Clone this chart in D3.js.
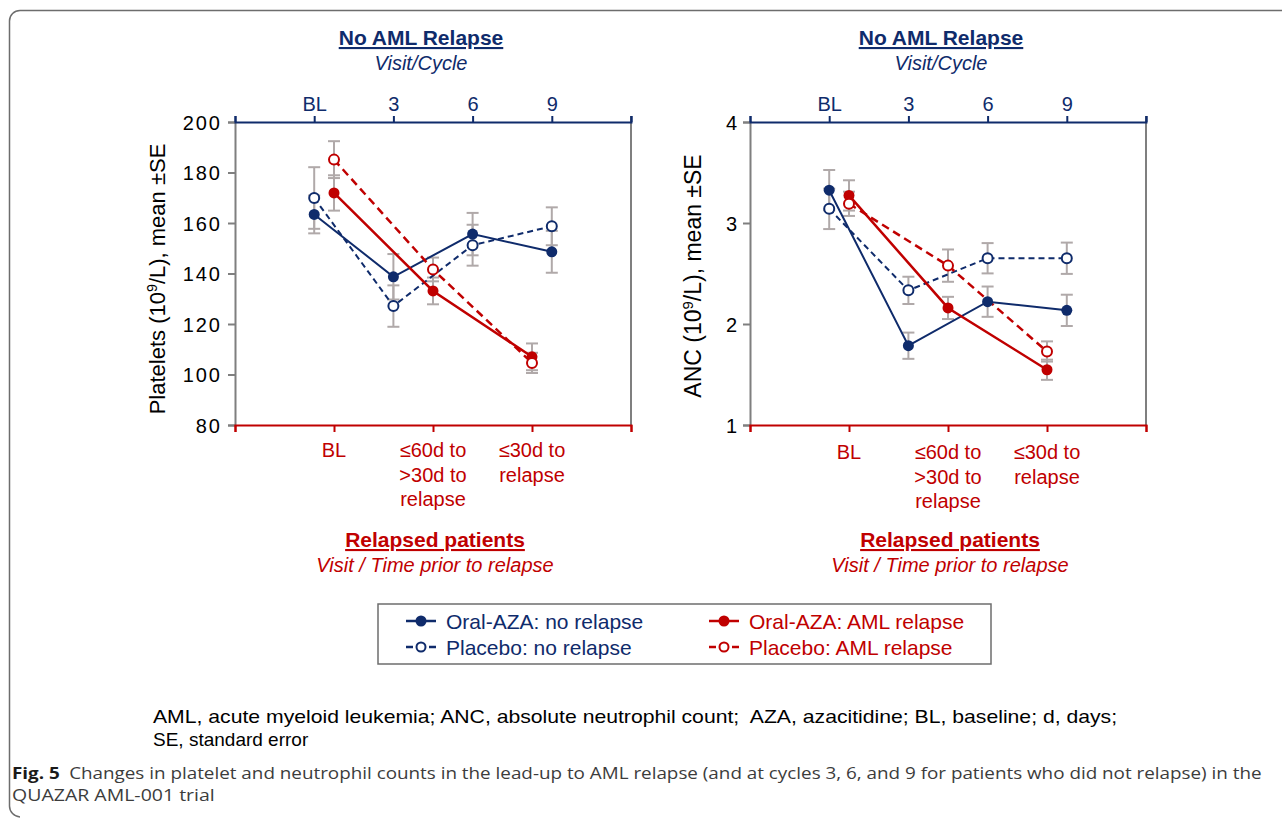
<!DOCTYPE html>
<html lang="en">
<head>
<meta charset="utf-8">
<style>
    body { margin: 0; background: #fff; }
    svg { display: block; }
    text { font-family: "Liberation Sans", Arial, sans-serif; }
</style>
</head>
<body>
<svg width="1282" height="818"></svg>
<script src="https://cdn.jsdelivr.net/npm/d3@7"></script>
<script>
    const svg = d3.select("svg");

    const navy = "#0f2b6b";
    const red = "#c00000";
    const grey = "#7f7f7f";
    const errGrey = "#b0a9a9";

    /******************************************************************
    * Data
    ******************************************************************/
    const visitTicks = ["BL", "3", "6", "9"];
    const relapseTicks = [["BL"], ["≤60d to", ">30d to", "relapse"], ["≤30d to", "relapse"]];

    // Platelets (10^9/L)
    const pltOralNoRelapse = [163.4, 138.7, 155.6, 148.6];
    const pltOralNoRelapseSE = [7.5, 9, 8.4, 8.3];
    const pltPlaceboNoRelapse = [169.9, 127.1, 151.2, 158.7];
    const pltPlaceboNoRelapseSE = [12.2, 8.2, 8.1, 7.5];
    const pltOralRelapse = [171.9, 133.1, 107.0];
    const pltOralRelapseSE = [7, 5.3, 5.3];
    const pltPlaceboRelapse = [185.1, 141.6, 104.6];
    const pltPlaceboRelapseSE = [7.3, 4.7, 4];
    const pltTicks = [80, 100, 120, 140, 160, 180, 200];

    // ANC (10^9/L)
    const ancOralNoRelapse = [3.325, 1.785, 2.221, 2.135];
    const ancOralNoRelapseSE = [0.2, 0.13, 0.15, 0.155];
    const ancPlaceboNoRelapse = [3.14, 2.333, 2.651, 2.651];
    const ancPlaceboNoRelapseSE = [0.2, 0.135, 0.15, 0.155];
    const ancOralRelapse = [3.273, 2.159, 1.547];
    const ancOralRelapseSE = [0.15, 0.11, 0.1];
    const ancPlaceboRelapse = [3.19, 2.578, 1.728];
    const ancPlaceboRelapseSE = [0.12, 0.16, 0.1];
    const ancTicks = [1, 2, 3, 4];

    const legendLabels = ["Oral-AZA: no relapse", "Placebo: no relapse", "Oral-AZA: AML relapse", "Placebo: AML relapse"];

    /******************************************************************
    * Frame
    ******************************************************************/
    svg.append("path")
        .attr("d", "M1282,10.5 H20 A10.5,10.5 0 0 0 9.5,21 V806 A11,11 0 0 0 20,817")
        .attr("fill", "none")
        .attr("stroke", "#6d6d6d")
        .attr("stroke-width", 1.5);

    /******************************************************************
    * Panel
    ******************************************************************/
    const plotW = 396, plotH = 303, plotTop = 122;

    function drawPanel(p) {
        const g = svg.append("g").attr("transform", `translate(${p.x0}, ${plotTop})`);

        const xTop = d3.scaleLinear().domain([0, 5]).range([0, plotW]);
        const xBot = d3.scaleLinear().domain([0, 4]).range([0, plotW]);
        const y = d3.scaleLinear().domain(p.yDomain).range([plotH, 0]);

        // right border
        g.append("line")
            .attr("x1", plotW).attr("x2", plotW).attr("y1", -6).attr("y2", plotH)
            .attr("stroke", grey).attr("stroke-width", 2);

        // y axis
        const yAxis = g.append("g")
            .call(d3.axisLeft(y).tickValues(p.yTicks).tickFormat(d3.format("d")).tickSize(7).tickPadding(6));
        yAxis.select(".domain").attr("stroke", grey).attr("stroke-width", 2);
        yAxis.selectAll(".tick line").attr("stroke", grey).attr("stroke-width", 2);
        yAxis.selectAll("text").attr("font-size", 20).attr("fill", "#000")
            .attr("letter-spacing", p.tickSpacing).attr("dy", "0.36em");

        // top axis (no relapse visits)
        const topAxis = g.append("g")
            .call(d3.axisTop(xTop).tickValues([0, 1, 2, 3, 4, 5]).tickSizeOuter(0).tickSize(6).tickPadding(5)
                .tickFormat(d => (d >= 1 && d <= 4) ? visitTicks[d - 1] : ""));
        topAxis.select(".domain").attr("stroke", navy).attr("stroke-width", 2);
        topAxis.selectAll(".tick line").attr("stroke", navy).attr("stroke-width", 2);
        topAxis.selectAll("text").attr("font-size", 20).attr("fill", navy);

        // bottom axis (relapsed patients)
        const botAxis = g.append("g").attr("transform", `translate(0, ${plotH})`)
            .call(d3.axisBottom(xBot).tickValues([0, 1, 2, 3, 4]).tickSizeOuter(0).tickSize(7).tickFormat(""));
        botAxis.select(".domain").attr("stroke", red).attr("stroke-width", 2);
        botAxis.selectAll(".tick line").attr("stroke", red).attr("stroke-width", 2);

        relapseTicks.forEach((lines, i) => {
            const t = g.append("text")
                .attr("x", xBot(i + 1)).attr("y", plotH + 32 + p.labelShift)
                .attr("text-anchor", "middle").attr("font-size", 20).attr("fill", red);
            lines.forEach((s, j) => {
                t.append("tspan").attr("x", xBot(i + 1)).attr("dy", j === 0 ? 0 : 24.5).text(s);
            });
        });

        // series
        const series = [
            { vals: p.oralNo, se: p.oralNoSE, x: xTop, color: navy, filled: true, dash: null, w: 2 },
            { vals: p.placeboNo, se: p.placeboNoSE, x: xTop, color: navy, filled: false, dash: "6,4", w: 2 },
            { vals: p.oralRel, se: p.oralRelSE, x: xBot, color: red, filled: true, dash: null, w: 2.5 },
            { vals: p.placeboRel, se: p.placeboRelSE, x: xBot, color: red, filled: false, dash: "8,5", w: 2.5 }
        ];

        // error bars first
        series.forEach(s => {
            const eb = g.append("g").attr("stroke", errGrey).attr("stroke-width", 2);
            s.vals.forEach((v, i) => {
                const cx = s.x(i + 1);
                const lo = y(v - s.se[i]), hi = y(v + s.se[i]);
                eb.append("line").attr("x1", cx).attr("x2", cx).attr("y1", lo).attr("y2", hi);
                eb.append("line").attr("x1", cx - 6).attr("x2", cx + 6).attr("y1", lo).attr("y2", lo);
                eb.append("line").attr("x1", cx - 6).attr("x2", cx + 6).attr("y1", hi).attr("y2", hi);
            });
        });

        series.forEach(s => {
            const line = d3.line().x((d, i) => s.x(i + 1)).y(d => y(d));
            g.append("path").datum(s.vals)
                .attr("d", line)
                .attr("fill", "none")
                .attr("stroke", s.color)
                .attr("stroke-width", s.w)
                .attr("stroke-dasharray", s.dash);
        });

        series.forEach(s => {
            g.selectAll(null).data(s.vals).enter().append("circle")
                .attr("cx", (d, i) => s.x(i + 1))
                .attr("cy", d => y(d))
                .attr("r", s.filled ? 5.5 : 5)
                .attr("fill", s.filled ? s.color : "#fff")
                .attr("stroke", s.color)
                .attr("stroke-width", s.filled ? 0 : 2);
        });

        // y axis label
        const yl = svg.append("text")
            .attr("transform", `translate(${p.yLabelX}, ${p.yLabelY}) rotate(-90)`)
            .attr("text-anchor", "middle").attr("font-size", p.yLabelSize).attr("fill", "#000");
        yl.append("tspan").text(p.yLabelPre);
        yl.append("tspan").attr("font-size", p.yLabelSize * 0.65).attr("dy", -8).text("9");
        yl.append("tspan").attr("dy", 8).text("/L), mean ±SE");

        // titles
        svg.append("text")
            .attr("x", p.x0 + p.titleDx).attr("y", 45)
            .attr("text-anchor", "middle").attr("font-size", 21).attr("font-weight", "bold")
            .attr("fill", navy).attr("text-decoration", "underline")
            .text("No AML Relapse");
        svg.append("text")
            .attr("x", p.x0 + p.titleDx).attr("y", 70)
            .attr("text-anchor", "middle").attr("font-size", 20).attr("font-style", "italic")
            .attr("fill", navy).text("Visit/Cycle");

        svg.append("text")
            .attr("x", p.x0 + p.subDx).attr("y", 547)
            .attr("text-anchor", "middle").attr("font-size", 21).attr("font-weight", "bold")
            .attr("fill", red).attr("text-decoration", "underline")
            .text("Relapsed patients");
        svg.append("text")
            .attr("x", p.x0 + p.subDx).attr("y", 572)
            .attr("text-anchor", "middle").attr("font-size", 20).attr("font-style", "italic")
            .attr("fill", red).text("Visit / Time prior to relapse");
    }

    drawPanel({
        x0: 235, yDomain: [80, 200], yTicks: pltTicks, tickSpacing: 2,
        oralNo: pltOralNoRelapse, oralNoSE: pltOralNoRelapseSE,
        placeboNo: pltPlaceboNoRelapse, placeboNoSE: pltPlaceboNoRelapseSE,
        oralRel: pltOralRelapse, oralRelSE: pltOralRelapseSE,
        placeboRel: pltPlaceboRelapse, placeboRelSE: pltPlaceboRelapseSE,
        yLabelX: 165, yLabelY: 279, yLabelSize: 22, yLabelPre: "Platelets (10",
        titleDx: 186, subDx: 200, labelShift: 0
    });

    drawPanel({
        x0: 750, yDomain: [1, 4], yTicks: ancTicks, tickSpacing: 0,
        oralNo: ancOralNoRelapse, oralNoSE: ancOralNoRelapseSE,
        placeboNo: ancPlaceboNoRelapse, placeboNoSE: ancPlaceboNoRelapseSE,
        oralRel: ancOralRelapse, oralRelSE: ancOralRelapseSE,
        placeboRel: ancPlaceboRelapse, placeboRelSE: ancPlaceboRelapseSE,
        yLabelX: 701, yLabelY: 276, yLabelSize: 23, yLabelPre: "ANC (10",
        titleDx: 191, subDx: 200, labelShift: 2
    });

    /******************************************************************
    * Legend
    ******************************************************************/
    const legend = svg.append("g");
    legend.append("rect")
        .attr("x", 378).attr("y", 604).attr("width", 613).attr("height", 60)
        .attr("fill", "#fff").attr("stroke", "#6d6d6d").attr("stroke-width", 1.5);

    const legendItems = [
        { col: 0, row: 0, color: navy, filled: true },
        { col: 0, row: 1, color: navy, filled: false },
        { col: 1, row: 0, color: red, filled: true },
        { col: 1, row: 1, color: red, filled: false }
    ];
    legendItems.forEach((it, i) => {
        const lx = it.col === 0 ? 406 : 709;
        const ly = 621 + it.row * 26;
        const lg = legend.append("g");
        lg.append("line")
            .attr("x1", lx).attr("x2", lx + 30).attr("y1", ly).attr("y2", ly)
            .attr("stroke", it.color).attr("stroke-width", 2.5)
            .attr("stroke-dasharray", it.filled ? null : "7,16,7");
        lg.append("circle")
            .attr("cx", lx + 15).attr("cy", ly)
            .attr("r", it.filled ? 5.5 : 4.5)
            .attr("fill", it.filled ? it.color : "#fff")
            .attr("stroke", it.color).attr("stroke-width", it.filled ? 0 : 2);
        lg.append("text")
            .attr("x", lx + 40).attr("y", ly + 7.5)
            .attr("font-size", 21).attr("fill", it.color)
            .text(legendLabels[i]);
    });

    /******************************************************************
    * Footnotes and caption
    ******************************************************************/
    function fitText(sel, width) {
        const w = sel.node().getComputedTextLength();
        const x = +sel.attr("x"), y0 = +sel.attr("y");
        sel.attr("x", 0).attr("y", 0)
            .attr("transform", `translate(${x}, ${y0}) scale(${width / w}, 1)`);
    }

    const foot1 = svg.append("text").attr("x", 153).attr("y", 723)
        .attr("font-size", 19).attr("fill", "#000")
        .style("white-space", "pre")
        .text("AML, acute myeloid leukemia; ANC, absolute neutrophil count;  AZA, azacitidine; BL, baseline; d, days;");
    fitText(foot1, 965);
    svg.append("text").attr("x", 153).attr("y", 746)
        .attr("font-size", 19).attr("fill", "#000")
        .text("SE, standard error");

    const cap1 = svg.append("text").attr("x", 12).attr("y", 779)
        .attr("font-size", 16).attr("fill", "#3c3c3c")
        .style("font-family", "'Open Sans', sans-serif");
    cap1.append("tspan").attr("font-weight", "bold").attr("fill", "#1a1a1a").text("Fig. 5");
    cap1.append("tspan").text("\u2002Changes in platelet and neutrophil counts in the lead-up to AML relapse (and at cycles 3, 6, and 9 for patients who did not relapse) in the");
    fitText(cap1, 1250);
    const cap2 = svg.append("text").attr("x", 12).attr("y", 801)
        .attr("font-size", 16).attr("fill", "#3c3c3c")
        .style("font-family", "'Open Sans', sans-serif")
        .text("QUAZAR AML-001 trial");
    fitText(cap2, 203);
</script>
</body>
</html>
